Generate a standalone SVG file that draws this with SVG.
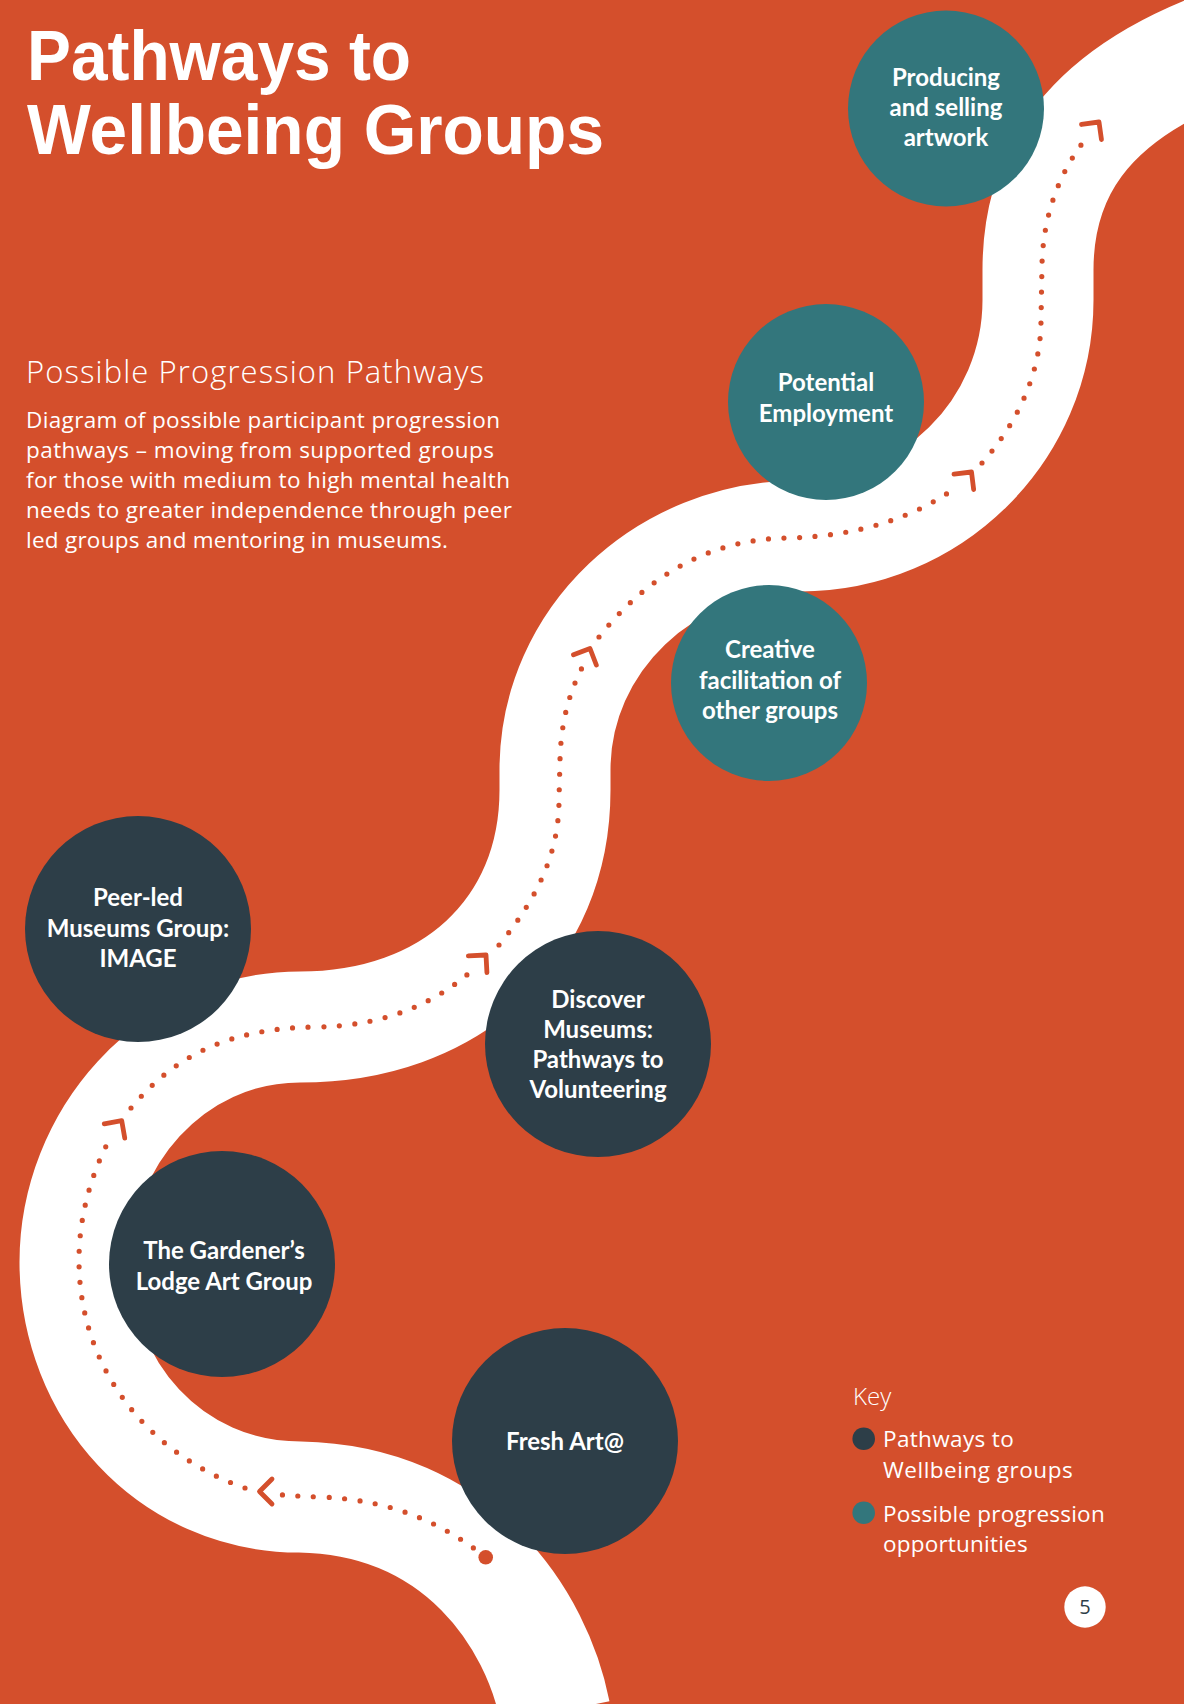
<svg xmlns="http://www.w3.org/2000/svg" width="1184" height="1704" viewBox="0 0 1184 1704">
  <style>
    .title { font-family: "Liberation Sans", Arial, sans-serif; font-weight: 700; font-size: 70px; fill: #ffffff; }
    .sub { font-family: "Open Sans", Lato, "Liberation Sans", sans-serif; font-weight: 300; font-size: 31px; fill: #ffffff; }
    .body { font-family: "Open Sans", Lato, "Liberation Sans", sans-serif; font-weight: 400; font-size: 22.5px; fill: #ffffff; }
    .key { font-family: "Open Sans", Lato, "Liberation Sans", sans-serif; font-weight: 300; font-size: 24px; fill: #ffffff; }
    .legend { font-family: "Open Sans", Lato, "Liberation Sans", sans-serif; font-weight: 400; font-size: 22.5px; fill: #ffffff; }
    .label { font-family: Lato, "Liberation Sans", sans-serif; font-weight: 700; font-size: 24px; fill: #ffffff; text-anchor: middle; }
    .dark { fill: #2d3e48; }
    .teal { fill: #33767c; }
    .dots { fill: none; stroke: #d44f2c; stroke-width: 5.2; stroke-linecap: round; stroke-dasharray: 0 15.5; }
    .road { fill: none; stroke: #ffffff; stroke-width: 111; }
  </style>
  <defs>
    <path id="chev" d="M -12.5 -12.5 L 0 0 L -12.5 12.5" fill="none" stroke="#d44f2c" stroke-width="4.8" stroke-linecap="round" stroke-linejoin="round"/>
  </defs>

  <rect x="0" y="0" width="1184" height="1704" fill="#d44f2c"/>

  <g id="road">
    <path class="road" d="M 555 1712 C 537 1620 460 1500 300 1497 C 170 1497 75 1390 75 1262 C 75 1140 170 1027 300 1027 C 450 1027 555 932 555 790 L 555 770 C 555 640 665 536 800 536 C 931 536 1038 430 1038 300 L 1038 270 C 1038 175 1085 100 1210 50"/>
  </g>

  <g id="title">
    <text class="title" x="27" y="80" textLength="384" lengthAdjust="spacingAndGlyphs">Pathways to</text>
    <text class="title" x="27" y="154" textLength="577" lengthAdjust="spacingAndGlyphs">Wellbeing Groups</text>
  </g>

  <g id="intro">
    <text class="sub" x="26" y="383" textLength="458">Possible Progression Pathways</text>
    <text class="body" x="26" y="427.5" textLength="474">Diagram of possible participant progression</text>
    <text class="body" x="26" y="457.5" textLength="468">pathways – moving from supported groups</text>
    <text class="body" x="26" y="488" textLength="484">for those with medium to high mental health</text>
    <text class="body" x="26" y="518" textLength="486">needs to greater independence through peer</text>
    <text class="body" x="26" y="548" textLength="422">led groups and mentoring in museums.</text>
  </g>

  <g id="connectors">
    <circle cx="485.7" cy="1557.3" r="7.3" fill="#d44f2c"/>
    <path class="dots" d="M 485.7 1557.3 C 445 1525 395 1500 321 1497 C 300 1496.5 285 1495 276 1494.5"/>
    <path class="dots" d="M 245 1488 C 150 1455 79 1370 79 1260 C 79 1210 95 1165 112 1135"/>
    <path class="dots" d="M 131 1108 C 175 1055 230 1028 316 1027 C 390 1026 440 1000 476 967"/>
    <path class="dots" d="M 499 945 C 540 895 559 850 559 800 L 560 760 C 561 720 570 690 584 664"/>
    <path class="dots" d="M 599 637 C 640 585 700 540 785 538 C 860 537 920 515 959 485"/>
    <path class="dots" d="M 982 463 C 1020 420 1041 370 1041 320 L 1042 265 C 1043 215 1060 170 1088 136"/>
    <use href="#chev" transform="translate(259.5,1491.5) rotate(180)"/>
    <use href="#chev" transform="translate(121.7,1120.7) rotate(-55)"/>
    <use href="#chev" transform="translate(486,955) rotate(-48)"/>
    <use href="#chev" transform="translate(590,648.5) rotate(-66)"/>
    <use href="#chev" transform="translate(971.5,472) rotate(-52)"/>
    <use href="#chev" transform="translate(1099,122) rotate(-53)"/>
  </g>

  <g id="node-producing">
    <circle class="teal" cx="946" cy="108.5" r="98"/>
    <text class="label" x="946" y="86">Producing</text>
    <text class="label" x="946" y="116">and selling</text>
    <text class="label" x="946" y="146">artwork</text>
  </g>
  <g id="node-employment">
    <circle class="teal" cx="826" cy="402" r="98"/>
    <text class="label" x="826" y="391">Potential</text>
    <text class="label" x="826" y="422">Employment</text>
  </g>
  <g id="node-creative">
    <circle class="teal" cx="769" cy="683" r="98"/>
    <text class="label" x="770" y="658">Creative</text>
    <text class="label" x="770" y="689">facilitation of</text>
    <text class="label" x="770" y="719">other groups</text>
  </g>
  <g id="node-peer">
    <circle class="dark" cx="138" cy="929" r="113"/>
    <text class="label" x="138" y="906">Peer-led</text>
    <text class="label" x="138" y="937">Museums Group:</text>
    <text class="label" x="138" y="967">IMAGE</text>
  </g>
  <g id="node-discover">
    <circle class="dark" cx="598" cy="1044" r="113"/>
    <text class="label" x="598" y="1008">Discover</text>
    <text class="label" x="598" y="1038">Museums:</text>
    <text class="label" x="598" y="1068">Pathways to</text>
    <text class="label" x="598" y="1098">Volunteering</text>
  </g>
  <g id="node-gardener">
    <circle class="dark" cx="222" cy="1264" r="113"/>
    <text class="label" x="224" y="1259">The Gardener’s</text>
    <text class="label" x="224" y="1290">Lodge Art Group</text>
  </g>
  <g id="node-fresh">
    <circle class="dark" cx="565" cy="1441" r="113"/>
    <text class="label" x="565" y="1450">Fresh Art@</text>
  </g>

  <g id="key">
    <text class="key" x="853" y="1405">Key</text>
    <circle class="dark" cx="863.7" cy="1438.7" r="11.3"/>
    <text class="legend" x="883" y="1447" textLength="130.7">Pathways to</text>
    <text class="legend" x="883" y="1478" textLength="189.7">Wellbeing groups</text>
    <circle class="teal" cx="863.7" cy="1512.7" r="11.3"/>
    <text class="legend" x="883" y="1521.7" textLength="221.7">Possible progression</text>
    <text class="legend" x="883" y="1551.7" textLength="144.7">opportunities</text>
  </g>

  <g id="page-number">
    <circle cx="1085" cy="1607" r="20.7" fill="#ffffff"/>
    <text x="1085" y="1614" text-anchor="middle" font-family="'Open Sans', Lato, 'Liberation Sans', sans-serif" font-weight="400" font-size="20" fill="#2d3e48">5</text>
  </g>
</svg>
